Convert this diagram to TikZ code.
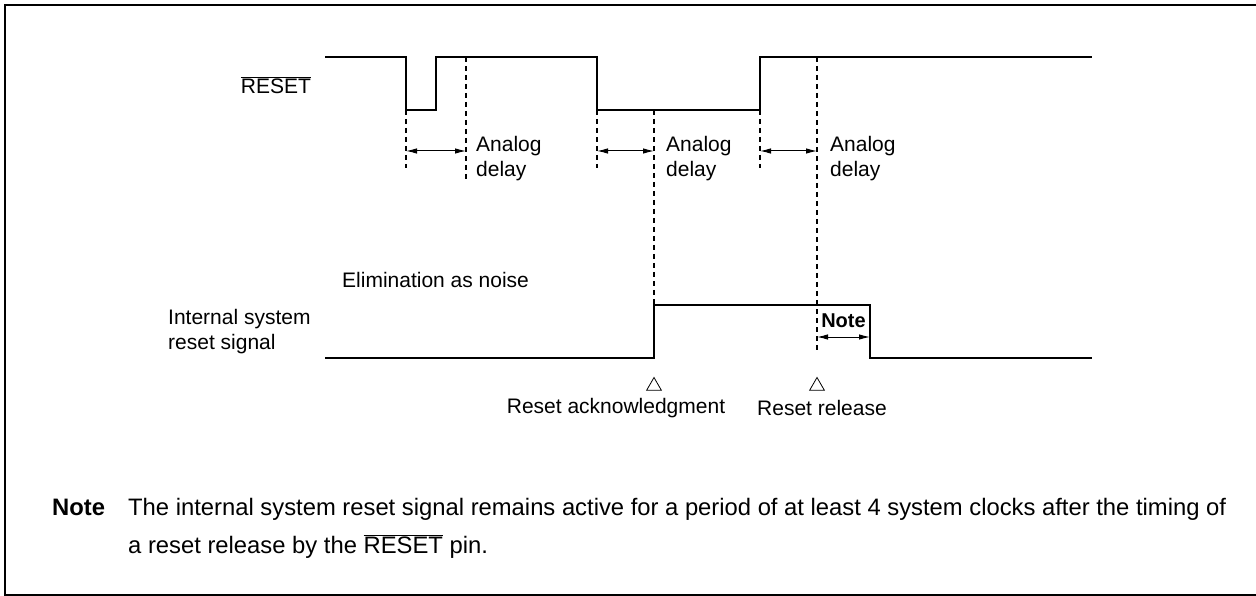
\documentclass[tikz,border=0pt]{standalone}
\usepackage{fontspec}
\setmainfont{Liberation Sans}
\usetikzlibrary{arrows.meta,shapes.geometric}
\begin{document}
\begin{tikzpicture}[x=1pt,y=-1pt,
  every node/.style={font=\fontsize{21}{25}\selectfont, inner sep=0pt},
  notefont/.style={font=\fontsize{23.8}{28}\selectfont},
  sig/.style={line width=2.8pt, line join=miter},
  guide/.style={line width=1.1pt, dash pattern=on 5pt off 4pt},
  span/.style={line width=1pt, {Latex[length=11pt,width=5.5pt]}-{Latex[length=11pt,width=5.5pt]}},
  tri/.style={draw, regular polygon, regular polygon sides=3, minimum size=17pt, line width=0.8pt, inner sep=0pt},
  frame/.style={line width=2.2pt}]
\useasboundingbox (0,0) rectangle (1256,596);
\draw[frame] (1258,5) -- (5,5) -- (5,595) -- (1258,595);

% RESET waveform
\node (lreset) at (276,85) {$\overline{\mbox{RESET}}$};
\draw[sig] (325,57) -- (406,57) -- (406,110) -- (436,110) -- (436,57) -- (597,57)
  -- (597,110) -- (760,110) -- (760,57) -- (1092,57);

% internal reset waveform
\node[align=left, anchor=west] (lint) at (168,332) {Internal system\\reset signal};
\draw[sig] (325,358) -- (654,358) -- (654,305) -- (870,305) -- (870,358) -- (1092,358);

% guide lines
\coordinate (a1) at (406,151); \coordinate (a2) at (466,151);
\coordinate (b1) at (597,151); \coordinate (b2) at (654,151);
\coordinate (c1) at (760,151); \coordinate (c2) at (817,151);
\draw[guide] (406,110) -- (406,168);
\draw[guide] (466,57) -- (466,180);
\draw[guide] (597,110) -- (597,168);
\draw[guide] (654,110) -- (654,305);
\draw[guide] (760,110) -- (760,168);
\draw[guide] (817,57) -- (817,350);

\draw[span] (a1) -- (a2);
\draw[span] (b1) -- (b2);
\draw[span] (c1) -- (c2);

\node[align=left, anchor=west] (d1) at (476,159) {Analog\\delay};
\node[align=left, anchor=west] (d2) at (666,159) {Analog\\delay};
\node[align=left, anchor=west] (d3) at (830,159) {Analog\\delay};

\node[anchor=west] (noise) at (342,280) {Elimination as noise};

% Note span
\coordinate (n1) at (817,337); \coordinate (n2) at (870,337);
\draw[span] (n1) -- (n2);
\node[font=\fontsize{20}{24}\selectfont\bfseries] (nlab) at (843.5,321) {Note};

% markers
\node[tri] (t1) at (654,386) {};
\node[tri] (t2) at (817,386) {};
\node (ack) at (616,408) {Reset acknowledgment};
\node (rel) at (822,408) {Reset release};

% footnote
\node[anchor=base west, font=\fontsize{23.8}{28}\selectfont\bfseries] (nnote) at (52,515) {Note};
\node[anchor=base west, notefont] (ntext1) at (128,515) {The internal system reset signal remains active for a period of at least 4 system clocks after the timing of};
\node[anchor=base west, notefont] (ntext2) at (128,553) {a reset release by the $\overline{\mbox{RESET}}$ pin.};
\end{tikzpicture}
\end{document}
